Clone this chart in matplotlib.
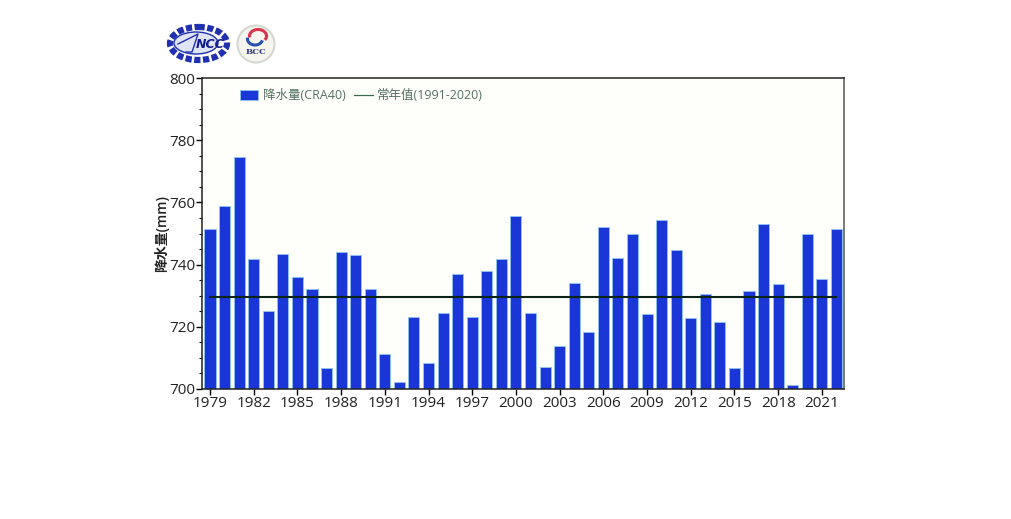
import matplotlib
matplotlib.use('Agg')
import matplotlib.pyplot as plt
from matplotlib.patches import Ellipse, Circle, Arc

plt.rcParams['font.family'] = ['Open Sans', 'Noto Sans CJK SC', 'DejaVu Sans']

# Data
years = list(range(1979, 2023))
precip = [751.3, 759.0, 774.7, 741.7, 725.0, 743.5, 736.0, 732.0, 706.8, 744.0,
          743.0, 732.0, 711.2, 702.2, 723.0, 708.2, 724.3, 737.0, 723.2, 737.8,
          741.8, 755.5, 724.4, 707.2, 713.8, 734.0, 718.3, 752.0, 742.2, 749.7,
          724.0, 754.2, 744.8, 722.7, 730.4, 721.5, 706.8, 731.5, 753.0, 733.8,
          701.3, 749.8, 735.5, 751.6]
normal_years = [1979, 2022]
normal = [729.5, 729.5]
xtick_years = list(range(1979, 2022, 3))
yticks = [700, 720, 740, 760, 780, 800]

W, H = 1011, 519
fig = plt.figure(figsize=(W / 100, H / 100), dpi=100)
ax = fig.add_axes([202 / W, 1 - 389 / H, (844 - 202) / W, (389 - 78) / H])
ax.set_facecolor('#fefffb')

bars = ax.bar(years, precip, width=0.76, color='#1b36d6', edgecolor='#8fc4f0',
              linewidth=0.6, label='降水量(CRA40)', zorder=2)
line, = ax.plot(normal_years, normal, color='#0c2418', linewidth=1.5,
                label='常年值(1991-2020)', zorder=3)

ax.set_xlim(1978.45, 2022.52)
ax.set_ylim(700, 800)
ax.set_xticks(xtick_years)
ax.set_yticks(yticks)
ax.set_yticks(range(700, 800, 5), minor=True)
ax.tick_params(axis='both', which='major', labelsize=11, length=4, width=1, pad=1,
               labelcolor='#222222')
ax.tick_params(axis='y', which='minor', length=2, width=0.8)
ax.set_ylabel('降水量(mm)', fontsize=10, fontweight='semibold', labelpad=0, color='#222222')
for s in ax.spines.values():
    s.set_linewidth(1.1)
    s.set_color('#222222')
ax.spines['right'].set_color('#555555')

leg = ax.legend([bars, line], ['降水量(CRA40)', '常年值(1991-2020)'],
                loc='upper left', bbox_to_anchor=(0.045, 0.992), ncol=2, frameon=False,
                fontsize=9, labelcolor='#55705f', handlelength=1.5, handleheight=0.9,
                columnspacing=0.7, handletextpad=0.35, borderpad=0.2)
leg.get_lines()[0].set_linewidth(0.9)
leg.get_lines()[0].set_color('#3c6a50')

# Logos, roughly
logo = fig.add_axes([0, 0, 1, 1], zorder=5)
logo.set_xlim(0, W)
logo.set_ylim(H, 0)
logo.axis('off')
logo.add_patch(Ellipse((198.5, 43.5), 57, 33, fc='white', ec='#2030b0', lw=4.5, ls=(0, (1, 0.4))))
logo.add_patch(Ellipse((196, 43), 44, 22, fc='#dfe4f6', ec='#2030b0', lw=1))
logo.plot([178, 198, 192, 186], [44, 34, 52, 52], color='#2030b0', lw=1)
logo.text(210, 44, 'NCC', fontsize=9, color='#101c90', fontweight='bold', style='italic',
          ha='center', va='center', family='DejaVu Sans')
logo.add_patch(Circle((256, 44), 18.5, fc='#f6f6ee', ec='#d4d8d0', lw=1.5))
logo.add_patch(Arc((258, 36), 17, 13, theta1=170, theta2=30, ec='#d8344c', lw=2.2))
logo.add_patch(Arc((255, 39), 15, 12, theta1=10, theta2=190, ec='#2850b0', lw=2.2))
logo.text(256, 51.5, 'BCC', fontsize=6, color='#303880', fontweight='bold', ha='center',
          va='center', family='DejaVu Serif')

fig.savefig('out.png', dpi=100, facecolor='white')
